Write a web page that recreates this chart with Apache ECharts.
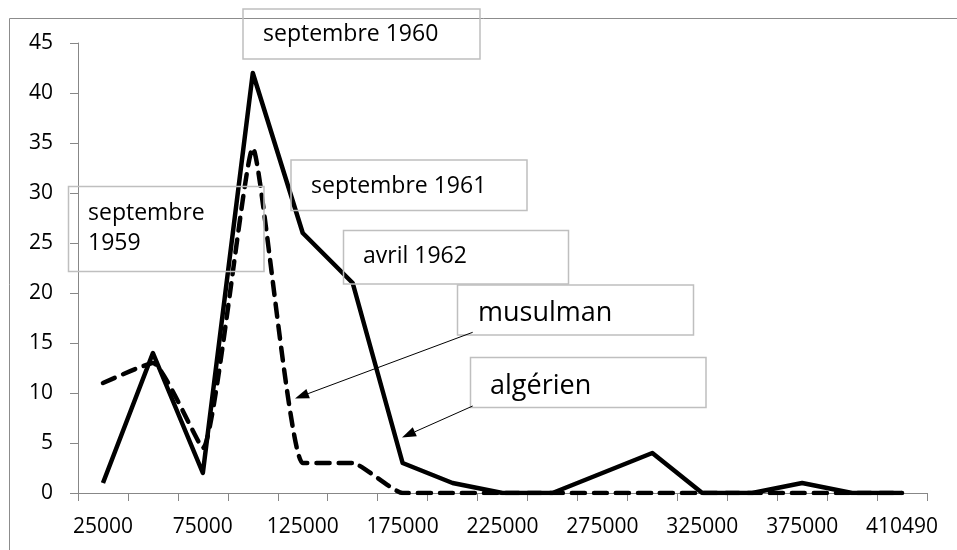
<!DOCTYPE html>
<html>
<head>
<meta charset="utf-8">
<script src="https://cdn.jsdelivr.net/npm/echarts@6/dist/echarts.min.js"></script>
<style>
  html, body { margin: 0; padding: 0; background: #fff; }
  #main { width: 957px; height: 550px; }
</style>
</head>
<body>
<div id="main"></div>
<script>
// categories on the x axis (one every two is labelled)
const categories = ['25000', '50000', '75000', '100000', '125000', '150000', '175000', '200000',
  '225000', '250000', '275000', '300000', '325000', '350000', '375000', '400000', '410490']
// solid line
const algerien = [1, 14, 2, 42, 26, 21, 3, 1, 0, 0, 2, 4, 0, 0, 1, 0, 0]
// dashed line
const musulman = [11, 13, 4.5, 34.5, 3, 3, 0, 0, 0, 0, 0, 0, 0, 0, 0, 0, 0]

const FONT = '"Open Sans", "DejaVu Sans", sans-serif'
const axisGray = '#878787'
const boxGray = '#bfbfbf'

const box = (x, y, w, h) => ({
  type: 'rect',
  shape: { x: x, y: y, width: w, height: h },
  style: { fill: 'none', stroke: boxGray, lineWidth: 1.5 },
  z: 10
})

const label = (x, y, text, size) => ({
  type: 'text',
  style: {
    x: x, y: y, text: text,
    font: size + 'px ' + FONT,
    fill: '#000',
    textVerticalAlign: 'middle',
    lineHeight: 30
  },
  z: 11
})

const arrow = (x1, y1, x2, y2) => {
  const dx = x2 - x1, dy = y2 - y1
  const len = Math.hypot(dx, dy)
  const ux = dx / len, uy = dy / len
  const hl = 14, hw = 5
  const bx = x2 - ux * hl, by = y2 - uy * hl
  return [
    { type: 'line', shape: { x1: x1, y1: y1, x2: bx, y2: by }, style: { stroke: '#000', lineWidth: 1 }, z: 12 },
    {
      type: 'polygon',
      shape: { points: [[x2, y2], [bx - uy * hw, by + ux * hw], [bx + uy * hw, by - ux * hw]] },
      style: { fill: '#000' },
      z: 12
    }
  ]
}

const chart = echarts.init(document.getElementById('main'))

const option = {
  backgroundColor: '#fff',
  animation: false,
  grid: { left: 78, right: 30, top: 43, bottom: 57 },
  xAxis: {
    type: 'category',
    data: categories,
    boundaryGap: true,
    axisLine: { lineStyle: { color: axisGray, width: 1 } },
    axisTick: { show: true, interval: 0, length: 8, lineStyle: { color: axisGray } },
    axisLabel: { interval: 1, color: '#000', fontSize: 21, fontFamily: FONT, margin: 24 },
    splitLine: { show: false }
  },
  yAxis: {
    type: 'value',
    min: 0,
    max: 45,
    interval: 5,
    axisLine: { show: true, lineStyle: { color: axisGray, width: 1 } },
    axisTick: { show: true, length: 8, lineStyle: { color: axisGray } },
    axisLabel: { color: '#000', fontSize: 21, fontFamily: FONT, margin: 25 },
    splitLine: { show: false }
  },
  series: [
    {
      name: 'musulman',
      type: 'line',
      data: musulman,
      showSymbol: false,
      smooth: 0.15,
      lineStyle: { color: '#000', width: 4.5, type: [13, 9], cap: 'round', join: 'round' },
      z: 2
    },
    {
      name: 'algérien',
      type: 'line',
      data: algerien,
      showSymbol: false,
      lineStyle: { color: '#000', width: 4.5, type: 'solid', join: 'round' },
      z: 3
    }
  ],
  graphic: [
    {
      type: 'rect',
      shape: { x: 9.5, y: 18.5, width: 960, height: 540 },
      style: { fill: 'none', stroke: '#8c8c8c', lineWidth: 1 },
      z: 9
    },
    box(243, 9, 237, 50),
    label(263, 34, 'septembre 1960', 23),
    box(68.5, 186.5, 195.5, 85),
    label(88, 228, 'septembre\n1959', 23),
    box(291, 160, 236, 50.5),
    label(311, 186, 'septembre 1961', 23),
    box(343.5, 230.5, 225, 53.5),
    label(363, 256, 'avril 1962', 23),
    box(457.5, 285, 236, 50),
    label(478, 313, 'musulman', 27),
    box(470.5, 357.5, 235.5, 50),
    label(490, 386, 'algérien', 27),
    ...arrow(472.7, 332.3, 295, 398.5),
    ...arrow(472.7, 406, 402, 437.5)
  ]
}

chart.setOption(option)
</script>
</body>
</html>
